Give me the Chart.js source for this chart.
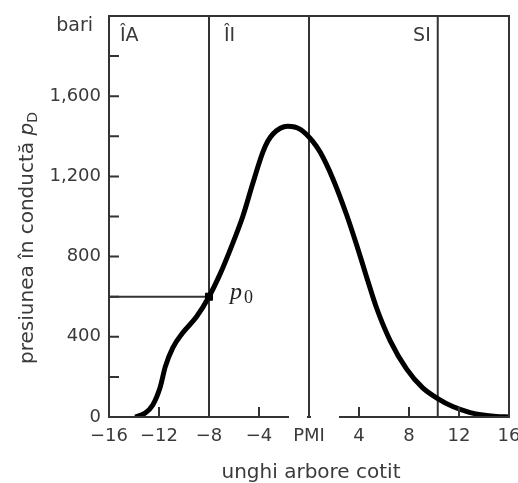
<!DOCTYPE html>
<html>
<head>
<meta charset="utf-8">
<script src="https://cdn.jsdelivr.net/npm/chart.js@4/dist/chart.umd.min.js"></script>
<style>
  body { margin: 0; background: #fff; }
  canvas { display: block; }
</style>
</head>
<body>
<canvas id="pressure-chart" width="518" height="483"></canvas>
<script>
// crank angle (deg) and line pressure (bar)
const angles = [-13.9, -13.1, -12.5, -11.9, -11.5, -10.9, -10.1, -9.0, -8, -7.1, -6.3, -5.3, -4.5, -3.7, -3.3, -2.9, -2.3, -1.7, -0.7, 0.3, 0.9, 1.9, 3.0, 3.8, 4.6, 5.4, 6.5, 7.8, 9.1, 10.3, 11.5, 12.9, 13.9, 15, 16];
const pressure = [0, 20, 60, 150, 250, 345, 420, 500, 600, 715, 835, 1000, 1165, 1320, 1375, 1410, 1440, 1450, 1435, 1375, 1320, 1190, 1010, 860, 700, 545, 380, 240, 145, 92, 52, 22, 10, 3, 0];

// vertical markers: start of injection, TDC, end of injection
const markerAngles = [-8, 0, 10.3];
const markerLabels = ['ÎI', '', 'SI'];
const p0 = { angle: -8, value: 600 };

const xTicks = [-16, -12, -8, -4, 0, 4, 8, 12, 16];
const yLabelTicks = [0, 400, 800, 1200, 1600];

const textColor = '#3a3a3a';
const lineColor = '#333';
const sansFamily = '"DejaVu Sans", Verdana, sans-serif';

const datasets = [{
    data: angles.map((a, i) => ({ x: a, y: pressure[i] })),
    borderColor: '#000',
    borderWidth: 5,
    pointRadius: 0,
    cubicInterpolationMode: 'monotone',
    order: 0
}];

markerAngles.forEach(a => {
    datasets.push({
        data: [{ x: a, y: 0 }, { x: a, y: 2000 }],
        borderColor: lineColor,
        borderWidth: 2,
        pointRadius: 0,
        order: 2
    });
});

// horizontal line at p0
datasets.push({
    data: [{ x: -16, y: p0.value }, { x: p0.angle, y: p0.value }],
    borderColor: lineColor,
    borderWidth: 2,
    pointRadius: 0,
    order: 2
});

datasets.push({
    data: [{ x: p0.angle, y: p0.value }],
    pointStyle: 'rect',
    pointRadius: 5,
    backgroundColor: '#000',
    borderColor: '#000',
    showLine: false,
    order: -1
});

const frame = {
    id: 'frame',
    afterDraw(chart) {
        const { ctx, chartArea: a, scales: { x, y } } = chart;
        ctx.save();
        ctx.strokeStyle = lineColor;
        ctx.lineWidth = 2;
        ctx.strokeRect(a.left, a.top, a.right - a.left, a.bottom - a.top);

        // inward tick marks
        ctx.beginPath();
        xTicks.slice(1, -1).forEach(v => {
            const px = x.getPixelForValue(v);
            ctx.moveTo(px, a.bottom);
            ctx.lineTo(px, a.bottom - 10);
        });
        for (let v = 200; v < 2000; v += 200) {
            const py = y.getPixelForValue(v);
            ctx.moveTo(a.left, py);
            ctx.lineTo(a.left + 10, py);
        }
        ctx.stroke();

        // gap in the axis under PMI
        const pmi = x.getPixelForValue(0);
        ctx.fillStyle = '#fff';
        ctx.fillRect(pmi - 20, a.bottom - 1, 18, 3);
        ctx.fillRect(pmi + 2, a.bottom - 1, 28, 3);

        ctx.fillStyle = textColor;
        ctx.font = '19px ' + sansFamily;
        ctx.textBaseline = 'alphabetic';
        ctx.textAlign = 'right';
        ctx.fillText('bari', 93, 31);
        ctx.textAlign = 'left';
        ctx.fillText('ÎA', a.left + 11, 41);
        markerAngles.forEach((m, i) => {
            if (!markerLabels[i]) return;
            const px = x.getPixelForValue(m);
            if (m > 0) {
                ctx.textAlign = 'right';
                ctx.fillText(markerLabels[i], px - 7, 41);
            } else {
                ctx.textAlign = 'left';
                ctx.fillText(markerLabels[i], px + 15, 41);
            }
        });

        // x title
        ctx.font = '20px ' + sansFamily;
        ctx.textAlign = 'center';
        ctx.fillText('unghi arbore cotit', 311, 478);

        // p0 label
        const px0 = x.getPixelForValue(p0.angle);
        const py0 = y.getPixelForValue(p0.value);
        ctx.textAlign = 'left';
        ctx.fillStyle = '#222';
        ctx.font = 'italic 24px "Liberation Serif", "Times New Roman", serif';
        ctx.fillText('p', px0 + 21, py0 + 2);
        ctx.font = '18px "Liberation Serif", "Times New Roman", serif';
        ctx.fillText('0', px0 + 35, py0 + 6);

        // y title, rotated
        ctx.fillStyle = textColor;
        ctx.translate(33, 238);
        ctx.rotate(-Math.PI / 2);
        const main = 'presiunea în conductă ';
        const sans = '20px ' + sansFamily;
        const ital = 'italic 20px ' + sansFamily;
        const sub = '14px ' + sansFamily;
        ctx.font = sans; const w1 = ctx.measureText(main).width;
        ctx.font = ital; const w2 = ctx.measureText('p').width;
        ctx.font = sub; const w3 = ctx.measureText('D').width;
        let cx = -(w1 + w2 + w3) / 2;
        ctx.textAlign = 'left';
        ctx.font = sans; ctx.fillText(main, cx, 0); cx += w1;
        ctx.font = ital; ctx.fillText('p', cx, 0); cx += w2;
        ctx.font = sub; ctx.fillText('D', cx, 4);
        ctx.restore();
    }
};

new Chart(document.getElementById('pressure-chart'), {
    type: 'line',
    data: { datasets },
    options: {
        responsive: false,
        animation: false,
        layout: { padding: { top: 16, right: 9, left: 0, bottom: 0 } },
        plugins: { legend: { display: false }, tooltip: { enabled: false } },
        scales: {
            x: {
                type: 'linear',
                min: -16,
                max: 16,
                afterFit: s => { s.height = 66; s.paddingLeft = 0; s.paddingRight = 0; },
                afterBuildTicks: s => { s.ticks = xTicks.map(v => ({ value: v })); },
                grid: { display: false, drawTicks: false },
                border: { display: false },
                ticks: {
                    autoSkip: false,
                    maxRotation: 0,
                    padding: 9,
                    color: textColor,
                    font: { size: 18, family: sansFamily },
                    callback: v => v === 0 ? 'PMI' : (v < 0 ? '\u2212' + Math.abs(v) : String(v))
                }
            },
            y: {
                min: 0,
                max: 2000,
                afterFit: s => { s.width = 109; s.paddingTop = 0; s.paddingBottom = 0; },
                afterBuildTicks: s => { s.ticks = yLabelTicks.map(v => ({ value: v })); },
                grid: { display: false, drawTicks: false },
                border: { display: false },
                ticks: {
                    padding: 8,
                    color: textColor,
                    font: { size: 18, family: sansFamily },
                    callback: v => v.toLocaleString('en-US')
                }
            }
        }
    },
    plugins: [frame]
});
</script>
</body>
</html>
